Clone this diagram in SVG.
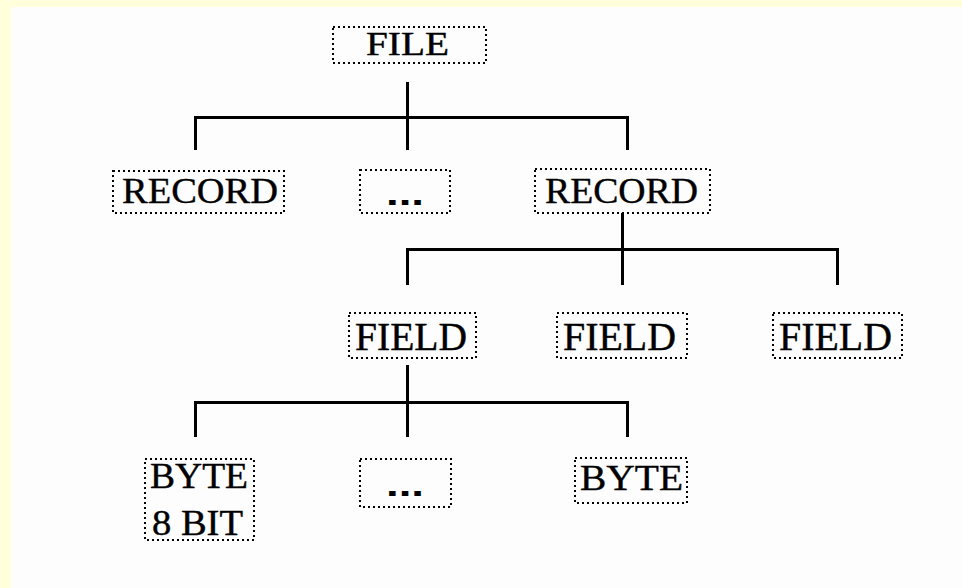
<svg xmlns="http://www.w3.org/2000/svg" width="962" height="588" viewBox="0 0 962 588">
<style>
.box{fill:none;stroke:#000;stroke-width:2;stroke-dasharray:2 3;shape-rendering:crispEdges}
.lbl{font-family:"Liberation Serif","DejaVu Serif",serif;font-size:36px;fill:#000;stroke:#000;stroke-width:0.4}
.dots{font-family:"Liberation Sans",sans-serif;font-weight:bold;font-size:34px;fill:#000}
.ln{stroke:#000;stroke-width:3;fill:none;shape-rendering:crispEdges}
</style>
<rect x="0" y="0" width="962" height="588" fill="#FFFFDC"/>
<rect x="11" y="7" width="951" height="581" fill="#FDFDFD"/>
<g id="connectors">
<path class="ln" d="M407 82V150M195 150V117H627V150"/>
<path class="ln" d="M622 213V285M407 285V249H837V285"/>
<path class="ln" d="M407 365V437M195 437V402H627V437"/>
</g>
<g id="file"><rect class="box" x="333" y="27" width="153" height="36"/><text class="lbl" x="366" y="55" textLength="83" lengthAdjust="spacingAndGlyphs" style="font-size:33px">FILE</text></g>
<g id="record1"><rect class="box" x="113" y="171" width="171" height="42"/><text class="lbl" x="122" y="203" textLength="156" lengthAdjust="spacingAndGlyphs">RECORD</text></g>
<g id="ellipsis1"><rect class="box" x="360" y="170" width="90" height="43"/><text class="dots" x="386" y="205" textLength="38" lengthAdjust="spacingAndGlyphs">...</text></g>
<g id="record2"><rect class="box" x="535" y="169" width="175" height="44"/><text class="lbl" x="545" y="203" textLength="153" lengthAdjust="spacingAndGlyphs">RECORD</text></g>
<g id="field1"><rect class="box" x="349" y="313" width="127" height="45"/><text class="lbl" x="355" y="350" textLength="112" lengthAdjust="spacingAndGlyphs" style="font-size:39px">FIELD</text></g>
<g id="field2"><rect class="box" x="557" y="313" width="130" height="45"/><text class="lbl" x="563" y="350" textLength="113" lengthAdjust="spacingAndGlyphs" style="font-size:39px">FIELD</text></g>
<g id="field3"><rect class="box" x="773" y="313" width="129" height="45"/><text class="lbl" x="779" y="350" textLength="113" lengthAdjust="spacingAndGlyphs" style="font-size:39px">FIELD</text></g>
<g id="byte1"><rect class="box" x="145" y="459" width="109" height="81"/><text class="lbl" x="150" y="488" textLength="98" lengthAdjust="spacingAndGlyphs" style="font-size:35px">BYTE</text><text class="lbl" x="152" y="535" textLength="91" lengthAdjust="spacingAndGlyphs" style="font-size:35px">8 BIT</text></g>
<g id="ellipsis2"><rect class="box" x="360" y="459" width="91" height="48"/><text class="dots" x="386" y="496" textLength="38" lengthAdjust="spacingAndGlyphs">...</text></g>
<g id="byte2"><rect class="box" x="575" y="458" width="112" height="45"/><text class="lbl" x="580" y="490" textLength="103" lengthAdjust="spacingAndGlyphs" style="font-size:36px">BYTE</text></g>
</svg>
